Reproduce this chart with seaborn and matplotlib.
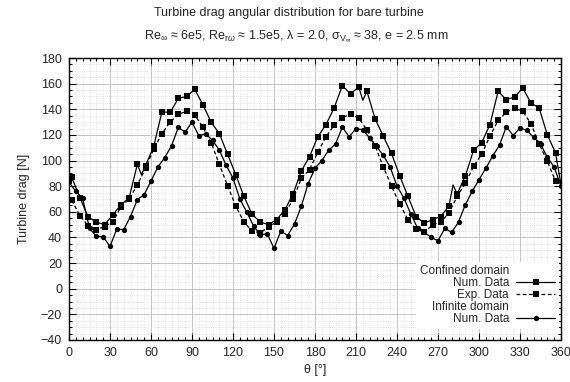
import numpy as np
import pandas as pd
import matplotlib
matplotlib.use("Agg")
import matplotlib.pyplot as plt
import seaborn as sns
from matplotlib.lines import Line2D
from matplotlib.ticker import MultipleLocator

# ---------------- data ----------------
# Infinite domain, numerical (every 5 deg)
theta_inf = list(range(0, 361, 5))
drag_inf = [83, 76, 70.5, 47, 41, 40.5, 33, 46.7, 46, 56.3, 69.5, 73.5,
            84, 95, 102.2, 111.5, 125.8, 122.2, 130, 119.2, 121, 115.7, 108.2, 96.2,
            86.3, 70, 60, 49, 42, 43, 31.5, 45, 41.5, 50.5, 64.3, 82,
            94, 100, 108, 113, 126, 118.5, 125, 124, 117.5, 111, 104, 95,
            80, 71, 58.5, 47.5, 44, 40, 37.5, 47, 44, 52, 65.5, 76,
            85, 94, 103.5, 112, 126.5, 119.5, 125.5, 123.5, 118, 113, 102.5, 95,
            80]

# Confined domain, numerical (marked points every 6 deg)
theta_conf = list(range(2, 357, 6))
drag_num = [87, 71, 56, 52, 50, 57.5, 65.5, 71, 97, 96,
            111, 138, 137.5, 148.5, 150, 155.5, 143.5, 130, 121, 105,
            89, 72, 58, 52, 50, 54, 61.7, 74, 92, 103,
            118.5, 128, 141, 158.5, 152, 157.5, 154, 132.5, 119, 105.5,
            88, 72, 56.3, 51, 54, 56.3, 64.6, 74, 88, 108,
            114, 128, 154, 147.5, 149.6, 156.6, 145, 141, 120, 106]
# unmarked intermediate points of the numerical confined curve
theta_num_extra = [53, 215, 281, 360]
drag_num_extra = [89, 147, 81, 81]

# Confined domain, experimental
drag_exp = [69, 57, 49, 46, 48.5, 52, 64, 70, 81, 94,
            109, 121, 130, 136, 138.5, 135.5, 126, 114, 97, 80.5,
            64.5, 52, 45, 43.5, 48.5, 52, 58.5, 70, 86, 93,
            106.5, 118.5, 127.5, 133.5, 136, 133, 124, 111.5, 95, 80,
            66, 54, 46.4, 44, 49.8, 52, 59, 72, 82.4, 95.4,
            105, 119, 131.4, 137.6, 141, 138.4, 128.8, 113, 99.4, 83.8]

x_ticks = list(range(0, 361, 30))
y_ticks = list(range(-40, 181, 20))

title1 = "Turbine drag angular distribution for bare turbine"
title2 = (r"Re$_{\infty}$ ≈ 6e5, Re$_{\mathrm{r}\omega}$ ≈ 1.5e5, λ = 2.0, "
          r"σ$_{\mathrm{V}_{\infty}}$ ≈ 38, e = 2.5 mm")
xlabel = "θ [°]"
ylabel = "Turbine drag [N]"

# ---------------- style ----------------
sns.set_theme(style="ticks")
plt.rcParams["font.family"] = ["Liberation Sans", "DejaVu Sans"]
plt.rcParams["mathtext.fontset"] = "custom"
plt.rcParams["mathtext.rm"] = "Liberation Sans"
plt.rcParams["mathtext.it"] = "Liberation Sans:italic"
plt.rcParams["mathtext.bf"] = "Liberation Sans:bold"
FS = 9

fig = plt.figure(figsize=(5.70, 3.82), dpi=100)
ax = fig.add_axes([69 / 570, 1 - 340 / 382, (561 - 69) / 570, (340 - 58) / 382])

# combined numerical confined series
df_num = pd.DataFrame({"theta": theta_conf + theta_num_extra,
                       "drag": drag_num + drag_num_extra})
df_num["marked"] = [True] * len(theta_conf) + [False] * len(theta_num_extra)
df_num = df_num.sort_values("theta").reset_index(drop=True)
mark_idx = list(df_num.index[df_num["marked"]])

df_exp = pd.DataFrame({"theta": theta_conf, "drag": drag_exp})
df_inf = pd.DataFrame({"theta": theta_inf, "drag": drag_inf})

sns.lineplot(data=df_num, x="theta", y="drag", ax=ax, color="black",
             estimator=None, sort=False, lw=0.9, marker="s", markersize=4.4,
             markevery=mark_idx, markeredgewidth=0)
sns.lineplot(data=df_exp, x="theta", y="drag", ax=ax, color="black",
             estimator=None, sort=False, lw=0.9, ls=(0, (3, 2)), marker="s",
             markersize=4.4, markeredgewidth=0)
sns.lineplot(data=df_inf, x="theta", y="drag", ax=ax, color="black",
             estimator=None, sort=False, lw=0.9, marker="o", markersize=3.8,
             markeredgewidth=0)

ax.set_xlim(0, 360)
ax.set_ylim(-40, 180)
ax.set_xticks(x_ticks)
ax.set_yticks(y_ticks)
ax.xaxis.set_minor_locator(MultipleLocator(5))
ax.yaxis.set_minor_locator(MultipleLocator(5))
ax.set_axisbelow(True)
ax.grid(which="major", color="#c4c4c4", lw=0.7, ls="-")
ax.grid(which="minor", color="#dcdcdc", lw=0.6, ls=(0, (1, 1.5)))
ax.tick_params(which="both", direction="in", top=True, right=True,
               labelsize=FS, color="black", width=0.8)
ax.tick_params(which="major", length=5, pad=5)
ax.tick_params(which="minor", length=2.5)
for s in ax.spines.values():
    s.set_color("black")
    s.set_linewidth(1.0)

ax.set_xlabel(xlabel, fontsize=FS, labelpad=4)
ax.set_ylabel(ylabel, fontsize=FS, labelpad=8)

fig.text(0.507, 1 - 13 / 382, title1, ha="center", va="center", fontsize=FS)
fig.text(0.52, 1 - 36 / 382, title2, ha="center", va="center", fontsize=FS)

# legend
blank = Line2D([], [], color="none")
h_num = Line2D([], [], color="black", lw=0.9, marker="s", markersize=4.4, markeredgewidth=0)
h_exp = Line2D([], [], color="black", lw=0.9, ls=(0, (3, 2)), marker="s", markersize=4.4,
               markeredgewidth=0)
h_inf = Line2D([], [], color="black", lw=0.9, marker="o", markersize=3.8, markeredgewidth=0)
leg = ax.legend([blank, h_num, h_exp, blank, h_inf],
                ["Confined domain", "Num. Data", "Exp. Data", "Infinite domain", "Num. Data"],
                loc="lower right", bbox_to_anchor=(0.995, 0.04), markerfirst=False,
                fontsize=8.5, frameon=True, fancybox=False, framealpha=1,
                edgecolor="white", facecolor="white", handlelength=3.3,
                handletextpad=0.6, labelspacing=0.0, borderpad=0.3,
                borderaxespad=0)
leg.get_frame().set_linewidth(0)

fig.savefig("out.png", dpi=100)
